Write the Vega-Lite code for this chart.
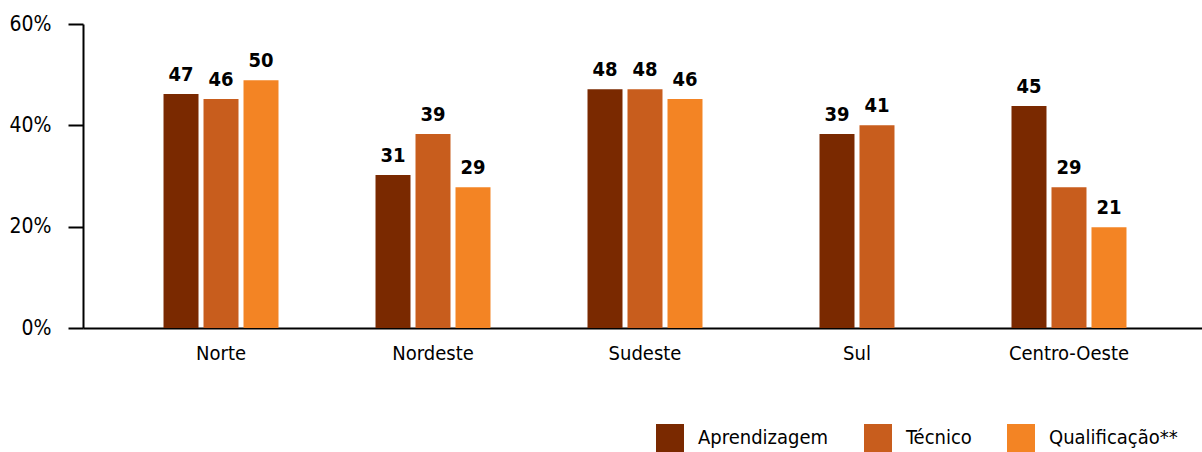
{
  "$schema": "https://vega.github.io/schema/vega-lite/v6.json",
  "width": 1124,
  "height": 304,
  "autosize": {"type": "none"},
  "padding": {"left": 83, "top": 24, "right": 0, "bottom": 124},
  "config": {
    "font": "Liberation Sans Narrow, DejaVu Sans Condensed, sans-serif",
    "view": {"stroke": null},
    "axis": {"grid": false, "labelColor": "#000000", "domainColor": "#000000", "tickColor": "#000000", "title": null}
  },
  "data": {
    "values": [
      {"region": "Norte", "series": "Aprendizagem", "value": 46.2, "label": "47"},
      {"region": "Norte", "series": "Técnico", "value": 45.2, "label": "46"},
      {"region": "Norte", "series": "Qualificação**", "value": 48.9, "label": "50"},
      {"region": "Nordeste", "series": "Aprendizagem", "value": 30.2, "label": "31"},
      {"region": "Nordeste", "series": "Técnico", "value": 38.3, "label": "39"},
      {"region": "Nordeste", "series": "Qualificação**", "value": 27.8, "label": "29"},
      {"region": "Sudeste", "series": "Aprendizagem", "value": 47.1, "label": "48"},
      {"region": "Sudeste", "series": "Técnico", "value": 47.1, "label": "48"},
      {"region": "Sudeste", "series": "Qualificação**", "value": 45.2, "label": "46"},
      {"region": "Sul", "series": "Aprendizagem", "value": 38.3, "label": "39"},
      {"region": "Sul", "series": "Técnico", "value": 40.0, "label": "41"},
      {"region": "Centro-Oeste", "series": "Aprendizagem", "value": 43.8, "label": "45"},
      {"region": "Centro-Oeste", "series": "Técnico", "value": 27.8, "label": "29"},
      {"region": "Centro-Oeste", "series": "Qualificação**", "value": 19.9, "label": "21"}
    ]
  },
  "encoding": {
    "x": {
      "field": "region",
      "type": "nominal",
      "title": null,
      "scale": {"domain": ["Norte", "Nordeste", "Sudeste", "Sul", "Centro-Oeste"], "paddingInner": 0.434, "paddingOuter": 0.368},
      "axis": {"labelAngle": 0, "ticks": false, "domainWidth": 2, "labelFontSize": 20, "labelPadding": 15}
    },
    "y": {
      "field": "value",
      "type": "quantitative",
      "title": null,
      "scale": {"domain": [0, 60], "nice": false},
      "axis": {"values": [0, 20, 40, 60], "labelExpr": "datum.value + '%'", "domainWidth": 2, "tickWidth": 2, "tickSize": 15, "labelFontSize": 21, "labelPadding": 17}
    },
    "color": {
      "field": "series",
      "type": "nominal",
      "scale": {"domain": ["Aprendizagem", "Técnico", "Qualificação**"], "range": ["#7a2900", "#c85d1d", "#f38424"]},
      "legend": {
        "title": null,
        "orient": "none",
        "direction": "horizontal",
        "legendX": 573,
        "legendY": 400,
        "padding": 0,
        "symbolType": "square",
        "symbolSize": 784,
        "symbolStrokeWidth": 0,
        "symbolOpacity": 1,
        "labelFontSize": 20,
        "labelColor": "#000000",
        "labelOffset": 14,
        "labelLimit": 400,
        "columnPadding": 35
      }
    }
  },
  "layer": [
    {
      "transform": [{"filter": "datum.region !== 'Sul'"}],
      "encoding": {
        "xOffset": {"field": "series", "type": "nominal", "scale": {"domain": ["Aprendizagem", "Técnico", "Qualificação**"], "paddingInner": 0.125, "paddingOuter": 0.0625}}
      },
      "layer": [
        {"mark": {"type": "bar"}},
        {"mark": {"type": "text", "fontSize": 20, "fontWeight": "bold", "baseline": "alphabetic", "dy": -13, "color": "#000000"}, "encoding": {"text": {"field": "label"}, "color": {"value": "#000000"}}}
      ]
    },
    {
      "transform": [{"filter": "datum.region === 'Sul'"}],
      "encoding": {
        "xOffset": {"field": "series", "type": "nominal", "scale": {"domain": ["Aprendizagem", "Técnico"], "paddingInner": 0.125, "paddingOuter": 0.5625}}
      },
      "layer": [
        {"mark": {"type": "bar"}},
        {"mark": {"type": "text", "fontSize": 20, "fontWeight": "bold", "baseline": "alphabetic", "dy": -13, "color": "#000000"}, "encoding": {"text": {"field": "label"}, "color": {"value": "#000000"}}}
      ]
    }
  ],
  "resolve": {"scale": {"xOffset": "independent"}}
}
